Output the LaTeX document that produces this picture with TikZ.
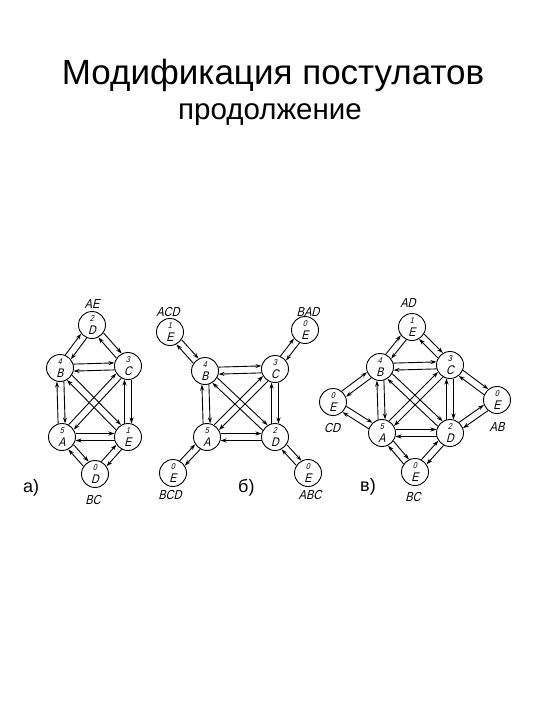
\documentclass[tikz,border=0pt]{standalone}
\usepackage{fontspec}
\setmainfont{Liberation Sans}
\newfontfamily\gost[FakeStretch=0.85,FakeSlant=0.25]{Liberation Sans}
\usetikzlibrary{calc,arrows.meta}
\tikzset{
 st/.style={circle,draw,line width=0.9pt,minimum size=27pt,inner sep=0pt,font=\gost},
 arr/.style={line width=0.9pt,-{Stealth[length=6pt,width=4pt]}},
 lbl/.style={font=\gost\fontsize{13}{13}\selectfont,inner sep=0pt},
 capt/.style={font=\fontsize{18}{18}\selectfont,inner sep=0pt,anchor=base west}
}
\newcommand\nd[2]{\shortstack{{\fontsize{8.5}{8.5}\selectfont #1}\\[0.6pt]{\fontsize{12.5}{12.5}\selectfont #2}}}
\def\RR{13.5pt}
\def\dd{3.5pt}
\newcommand\dbl[2]{%
 \draw[arr] ($($(#1)!\RR!(#2)$)!\dd!90:(#2)$) -- ($($(#2)!\RR!(#1)$)!\dd!-90:(#1)$);
 \draw[arr] ($($(#2)!\RR!(#1)$)!\dd!90:(#1)$) -- ($($(#1)!\RR!(#2)$)!\dd!-90:(#2)$);
}
\begin{document}
\begin{tikzpicture}[x=1pt,y=-1pt]
\useasboundingbox (0,0) rectangle (540,720);
\node[font=\fontsize{35}{35}\selectfont,anchor=base,inner sep=0pt] (t1) at (273,84) {Модификация постулатов};
\node[font=\fontsize{29.5}{29.5}\selectfont,anchor=base,inner sep=0pt] (t2) at (270,119) {продолжение};
% a)
\node[st] (aT) at (92,325) {\nd{2}{D}};
\node[st] (aB) at (60,368) {\nd{4}{B}};
\node[st] (aC) at (128,366) {\nd{3}{C}};
\node[st] (aA) at (62,437) {\nd{5}{A}};
\node[st] (aE) at (128,437) {\nd{1}{E}};
\node[st] (aD) at (95,474) {\nd{0}{D}};
\node[lbl] (laT) at (92,304) {AE};
\node[lbl] (laD) at (93,500) {BC};
\node[capt] (ca) at (23,492) {а)};
\dbl{aT}{aB}\dbl{aT}{aC}\dbl{aB}{aC}\dbl{aB}{aA}\dbl{aB}{aE}
\dbl{aC}{aA}\dbl{aC}{aE}\dbl{aA}{aE}\dbl{aA}{aD}\dbl{aE}{aD}
% b)
\node[st] (bTL) at (170,332) {\nd{1}{E}};
\node[st] (bTR) at (305,330) {\nd{0}{E}};
\node[st] (bB) at (205,371) {\nd{4}{B}};
\node[st] (bC) at (275,369) {\nd{3}{C}};
\node[st] (bA) at (207,437) {\nd{5}{A}};
\node[st] (bD) at (275,437) {\nd{2}{D}};
\node[st] (bBL) at (173,473) {\nd{0}{E}};
\node[st] (bBR) at (308,473) {\nd{0}{E}};
\node[lbl] (lbTL) at (168,312) {ACD};
\node[lbl] (lbTR) at (308,312) {BAD};
\node[lbl] (lbBL) at (170,495) {BCD};
\node[lbl] (lbBR) at (310,495) {ABC};
\node[capt] (cb) at (238,492) {б)};
\dbl{bTL}{bB}\dbl{bTR}{bC}\dbl{bB}{bC}\dbl{bB}{bA}\dbl{bB}{bD}
\dbl{bC}{bA}\dbl{bC}{bD}\dbl{bA}{bD}\dbl{bBL}{bA}\dbl{bBR}{bD}
% v)
\node[st] (cT) at (412,327) {\nd{1}{E}};
\node[st] (cB) at (380,367) {\nd{4}{B}};
\node[st] (cC) at (450,365) {\nd{3}{C}};
\node[st] (cL) at (333,402) {\nd{0}{E}};
\node[st] (cR) at (497,400) {\nd{0}{E}};
\node[st] (cA) at (382,433) {\nd{5}{A}};
\node[st] (cD) at (450,433) {\nd{2}{D}};
\node[st] (cM) at (415,472) {\nd{0}{E}};
\node[lbl] (lcT) at (408,303) {AD};
\node[lbl] (lcL) at (332,428) {CD};
\node[lbl] (lcR) at (497,427) {AB};
\node[lbl] (lcM) at (413,497) {BC};
\node[capt] (cc) at (360,491) {в)};
\dbl{cT}{cB}\dbl{cT}{cC}\dbl{cB}{cC}\dbl{cB}{cA}\dbl{cB}{cD}
\dbl{cC}{cA}\dbl{cC}{cD}\dbl{cA}{cD}\dbl{cL}{cB}\dbl{cL}{cA}
\dbl{cR}{cC}\dbl{cR}{cD}\dbl{cM}{cA}\dbl{cM}{cD}
\end{tikzpicture}
\end{document}
